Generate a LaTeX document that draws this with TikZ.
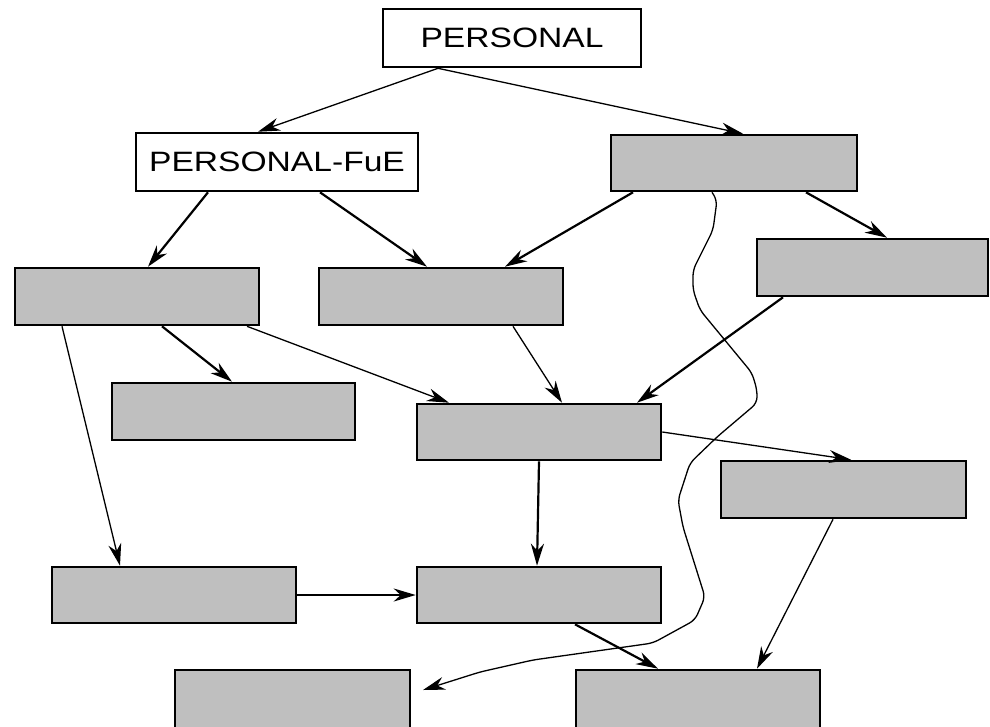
\documentclass[tikz,border=0pt]{standalone}
\usepackage{fontspec}
\setmainfont{Liberation Sans}
\usetikzlibrary{arrows.meta}
\tikzset{
    leer/.style={draw=black, line width=2.6pt, fill=white, inner sep=0pt},
    grau/.style={draw=black, line width=2.6pt, fill=black!25, inner sep=0pt},
    dick/.style={-{Stealth[length=22pt, width=13pt, inset=7pt]}, line width=2.2pt},
    duenn/.style={-{Stealth[length=22pt, width=13pt, inset=7pt]}, line width=1.3pt}
}
\newcommand{\kasten}[6]{% name, style, x1, y1, x2, y2
    \node[#2, minimum width={#5pt-#3pt}, minimum height={#6pt-#4pt}]
        (#1) at ({(#3+#5)/2}, {(#4+#6)/2}) {};}
\newcommand{\schrift}[1]{\fontsize{28}{30}\selectfont\scalebox{1.2}[1]{#1}}
\begin{document}
\begin{tikzpicture}[x=1pt, y=-1pt]
    \useasboundingbox (0,0) rectangle (990,726);
    \clip (0,0) rectangle (990,726);
    % Kaesten
    \node[leer, minimum width=258pt, minimum height=58pt] (personal) at (512,38) {\raisebox{-2pt}{\schrift{PERSONAL}}};
    \node[leer, minimum width=282pt, minimum height=58pt] (fue) at (277,162) {\schrift{PERSONAL-FuE}};
    \kasten{k1}{grau}{611}{135}{857}{191}
    \kasten{k2}{grau}{15}{268}{259}{325}
    \kasten{k3}{grau}{319}{268}{563}{325}
    \kasten{k4}{grau}{757}{239}{988}{296}
    \kasten{k5}{grau}{112}{383}{355}{440}
    \kasten{k6}{grau}{417}{404}{661}{460}
    \kasten{k7}{grau}{721}{461}{966}{518}
    \kasten{k8}{grau}{52}{567}{296}{623}
    \kasten{k9}{grau}{417}{567}{661}{623}
    \kasten{k10}{grau}{175}{670}{410}{740}
    \kasten{k11}{grau}{576}{670}{820}{740}
    % Pfeile
    \draw[duenn] (personal.south -| 438,0) -- (fue.north -| 258,0);
    \draw[duenn] (personal.south -| 438,0) -- (k1.north -| 743,0);
    \draw[dick] (fue.south -| 208,0) -- (k2.north -| 148,0);
    \draw[dick] (fue.south -| 320,0) -- (k3.north -| 427,0);
    \draw[dick] (k1.south -| 633,0) -- (k3.north -| 505,0);
    \draw[dick] (k1.south -| 806,0) -- (k4.north -| 887,0);
    \draw[dick] (k2.south -| 162,0) -- (k5.north -| 232,0);
    \draw[duenn] (k2.south -| 247,0) -- (k6.north -| 449,0);
    \draw[duenn] (k2.south -| 62,0) -- (k8.north -| 120,0);
    \draw[duenn] (k3.south -| 513,0) -- (k6.north -| 562,0);
    \draw[dick] (k4.south -| 783,0) -- (k6.north -| 637,0);
    \draw[duenn] (k6.east |- 0,432) -- (k7.north -| 851,0);
    \draw[dick] (k6.south -| 539,0) -- (k9.north -| 537,0);
    \draw[dick] (k8.east) -- (k9.west);
    \draw[dick] (k9.south -| 575,0) -- (k11.north -| 658,0);
    \draw[duenn] (k7.south -| 833,0) -- (k11.north -| 757,0);
    % Schlangenlinie
    \draw[duenn, rounded corners=6pt] (k1.south -| 712,0) -- (717,200) -- (713,230)
        -- (693,270) -- (693,290) -- (700,310) -- (752,373) -- (757,390)
        -- (757,403) -- (717,437) -- (690,463) -- (678,500) -- (683,527)
        -- (705,597) -- (695,620) -- (653,643) -- (533,660) -- (480,672)
        -- (423,690);
\end{tikzpicture}
\end{document}
